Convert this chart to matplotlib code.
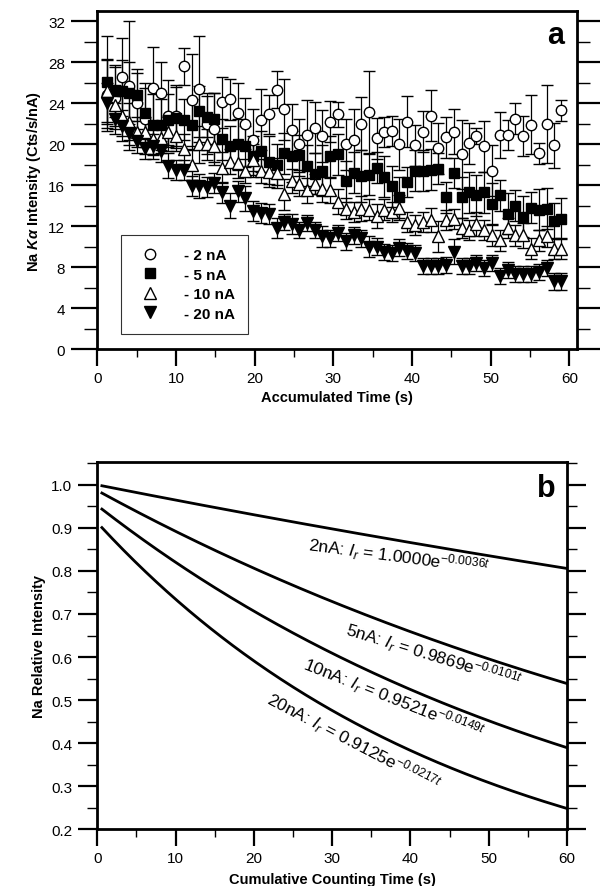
import numpy as np
import matplotlib
matplotlib.use("Agg")
import matplotlib.pyplot as plt
from matplotlib.ticker import MultipleLocator, FormatStrFormatter

plt.rcParams['font.family'] = ['Liberation Sans', 'DejaVu Sans']
plt.rcParams['mathtext.fontset'] = 'custom'
plt.rcParams['mathtext.rm'] = 'Liberation Sans'
plt.rcParams['mathtext.it'] = 'Liberation Sans:italic'
plt.rcParams['mathtext.bf'] = 'Liberation Sans:bold'
plt.rcParams['mathtext.bfit'] = 'Liberation Sans:italic:bold'

# ---- panel a data ----
time_s = [1.2, 2.2, 3.2, 4.1, 5.1, 6.1, 7.1, 8.1, 9.0, 10.0,
          11.0, 12.0, 13.0, 13.9, 14.9, 15.9, 16.9, 17.9, 18.8, 19.8,
          20.8, 21.8, 22.8, 23.7, 24.7, 25.7, 26.7, 27.7, 28.6, 29.6,
          30.6, 31.6, 32.6, 33.5, 34.5, 35.5, 36.5, 37.5, 38.4, 39.4,
          40.4, 41.4, 42.4, 43.3, 44.3, 45.3, 46.3, 47.3, 48.2, 49.2,
          50.2, 51.2, 52.2, 53.1, 54.1, 55.1, 56.1, 57.1, 58.0, 59.0]

na_2nA = [24.8, 24.5, 26.6, 25.7, 24.0, 22.5, 25.5, 25.0, 22.8, 22.8,
          27.6, 24.3, 25.4, 22.0, 21.5, 24.1, 24.4, 23.0, 22.0, 20.4,
          22.4, 22.9, 25.3, 23.4, 21.4, 20.0, 20.9, 21.6, 20.8, 22.2,
          22.9, 20.0, 20.4, 22.0, 23.1, 20.6, 21.2, 21.3, 20.0, 22.2,
          19.9, 21.2, 22.8, 19.6, 20.7, 21.2, 19.0, 20.1, 20.8, 19.8,
          17.4, 20.9, 20.9, 22.5, 20.8, 21.9, 19.1, 22.0, 19.9, 23.3]
err_2nA = [3.5, 3.0, 3.8, 6.3, 3.0, 3.5, 4.0, 3.0, 3.5, 3.0,
           1.8, 4.5, 5.2, 3.0, 3.5, 2.5, 2.0, 3.0, 2.5, 3.0,
           3.0, 1.9, 1.8, 3.0, 2.5, 2.5, 3.4, 2.5, 2.5, 2.0,
           1.2, 2.5, 3.0, 2.6, 4.0, 2.0, 1.5, 1.5, 2.5, 2.5,
           2.0, 2.0, 2.5, 2.5, 2.0, 2.2, 3.4, 2.0, 0.8, 2.5,
           2.5, 2.2, 1.5, 1.5, 2.0, 2.9, 1.0, 3.8, 2.2, 1.0]

na_5nA = [26.1, 25.2, 25.2, 25.0, 24.8, 23.0, 21.9, 21.9, 22.4, 22.6,
          22.4, 21.9, 23.2, 22.7, 22.5, 20.5, 19.8, 20.0, 19.8, 18.8,
          19.3, 18.3, 18.0, 19.1, 18.8, 18.9, 17.9, 17.1, 17.4, 18.8,
          19.0, 16.4, 17.2, 16.9, 17.0, 17.7, 16.8, 15.9, 14.8, 16.3,
          17.4, 17.4, 17.5, 17.6, 14.8, 17.2, 14.8, 15.3, 15.0, 15.3,
          14.2, 15.0, 13.2, 14.0, 12.9, 13.8, 13.6, 13.7, 12.5, 12.7]
err_5nA = [4.5, 2.5, 3.0, 3.0, 2.5, 2.5, 3.0, 2.5, 2.5, 3.0,
           2.0, 2.5, 2.5, 2.0, 2.5, 2.0, 2.0, 2.5, 2.0, 2.0,
           2.0, 2.5, 2.0, 2.0, 2.5, 2.0, 2.0, 2.0, 2.5, 2.0,
           2.0, 2.0, 2.0, 2.5, 2.0, 1.5, 2.0, 2.0, 2.0, 1.5,
           2.0, 2.0, 2.0, 1.5, 1.5, 1.5, 2.0, 2.0, 2.0, 2.0,
           2.0, 1.5, 2.0, 1.5, 2.0, 1.5, 2.0, 2.0, 1.8, 2.0]

na_10nA = [25.2, 23.8, 22.8, 22.2, 21.2, 21.2, 20.5, 20.6, 21.2, 20.8,
           19.5, 18.0, 20.0, 20.0, 19.8, 17.7, 18.3, 18.2, 17.4, 18.5,
           17.4, 17.3, 17.2, 15.1, 16.4, 16.1, 15.5, 16.1, 15.6, 15.5,
           14.4, 13.7, 13.4, 13.7, 13.6, 13.0, 13.6, 13.4, 13.8, 12.4,
           12.1, 12.4, 12.6, 11.0, 12.6, 12.7, 11.8, 11.6, 12.2, 11.6,
           11.1, 10.6, 11.8, 11.1, 11.1, 9.8, 10.6, 11.0, 9.8, 9.8]
err_10nA = [3.0, 2.0, 2.0, 1.8, 1.5, 1.5, 1.5, 1.5, 1.5, 1.5,
            1.5, 1.5, 1.8, 1.5, 1.5, 1.5, 1.2, 1.5, 1.2, 1.5,
            1.2, 1.2, 1.5, 1.5, 1.2, 1.2, 1.2, 1.0, 1.2, 1.2,
            1.2, 1.0, 1.0, 1.2, 1.0, 1.2, 1.0, 1.0, 1.2, 1.0,
            1.0, 1.0, 1.2, 1.5, 1.0, 1.0, 1.0, 1.0, 1.2, 1.0,
            1.0, 1.0, 1.0, 1.0, 1.2, 1.0, 1.0, 1.0, 1.0, 1.0]

na_20nA = [24.0, 22.5, 21.8, 21.1, 20.3, 19.6, 19.8, 19.3, 17.9, 17.5,
           17.5, 15.9, 15.9, 15.8, 16.2, 15.3, 14.0, 15.4, 14.7, 13.5,
           13.3, 13.2, 11.8, 12.4, 12.2, 11.6, 12.3, 11.6, 11.0, 10.8,
           11.3, 10.5, 11.1, 10.8, 10.0, 10.0, 9.5, 9.4, 9.9, 9.6,
           9.4, 8.1, 8.1, 8.1, 8.2, 9.5, 8.1, 8.1, 8.4, 7.9,
           8.4, 7.1, 7.7, 7.3, 7.3, 7.3, 7.5, 7.9, 6.6, 6.6]
err_20nA = [2.0, 1.5, 1.5, 1.2, 1.2, 1.0, 1.2, 1.0, 1.2, 1.0,
            1.0, 1.0, 1.2, 1.0, 1.0, 1.0, 1.2, 1.0, 1.2, 1.0,
            1.0, 1.0, 1.0, 0.8, 1.0, 0.8, 0.8, 0.8, 1.0, 0.8,
            0.8, 0.8, 0.8, 0.8, 1.0, 0.8, 0.8, 0.8, 0.8, 0.8,
            0.8, 0.8, 0.8, 0.8, 0.8, 1.2, 0.8, 0.8, 0.8, 0.8,
            0.8, 0.8, 0.8, 0.8, 0.8, 0.8, 0.8, 0.8, 0.8, 0.8]

# ---- panel b: fitted decay curves I_r = A * exp(k t) as given in the chart ----
currents = ["2nA", "5nA", "10nA", "20nA"]
fit_amp = [1.0000, 0.9869, 0.9521, 0.9125]
fit_rate = [-0.0036, -0.0101, -0.0149, -0.0217]
label_x = [38.6, 43.0, 37.8, 32.8]
label_y = [0.835, 0.605, 0.505, 0.405]
label_rot = [-7.5, -17, -21.5, -27.5]


def style_axes(ax, ylen):
    for side in ["left", "right", "top", "bottom"]:
        ax.spines[side].set_linewidth(2.0)
    ax.tick_params(which="major", direction="out", length=12, width=1.6,
                   labelsize=11, right=True, top=False)
    ax.tick_params(which="minor", direction="out", length=6, width=1.0,
                   right=True, top=False)
    ax.tick_params(axis="y", which="major", length=ylen, pad=4)
    ax.tick_params(axis="y", which="minor", length=ylen / 2)
    ax.tick_params(axis="y", which="both", labelright=False)


fig = plt.figure(figsize=(6, 8.87), dpi=100)

# ---------------- panel a ----------------
ax1 = fig.add_axes([0.162, 0.6054, 0.80, 0.381])
series = [
    (na_2nA, err_2nA, "o", "white", 7.5, "- 2 nA"),
    (na_5nA, err_5nA, "s", "black", 7, "- 5 nA"),
    (na_10nA, err_10nA, "^", "white", 8.5, "- 10 nA"),
    (na_20nA, err_20nA, "v", "black", 8.5, "- 20 nA"),
]
for vals, errs, mk, fc, ms, lab in series:
    ax1.errorbar(time_s, vals, yerr=errs, fmt=mk, mfc=fc, mec="black",
                 mew=1.0, ms=ms, ecolor="black", elinewidth=0.9,
                 capsize=4, capthick=0.9, label=lab)

ax1.set_xlim(0, 61)
ax1.set_ylim(0, 33)
ax1.xaxis.set_major_locator(MultipleLocator(10))
ax1.xaxis.set_minor_locator(MultipleLocator(5))
ax1.yaxis.set_major_locator(MultipleLocator(4))
ax1.yaxis.set_minor_locator(MultipleLocator(2))
style_axes(ax1, 19)
ax1.set_xlabel("Accumulated Time (s)", fontsize=10.5, fontweight="bold")
ax1.set_ylabel(r"Na $\mathbfit{K\alpha}$ Intensity (Cts/s/nA)",
               fontsize=10.5, fontweight="bold", labelpad=4)
ax1.text(0.955, 0.93, "a", transform=ax1.transAxes, fontsize=22,
         fontweight="bold", ha="center", va="center")

handles, labels = ax1.get_legend_handles_labels()
handles = [h[0] for h in handles]
leg = ax1.legend(handles, labels, loc="lower left",
                 bbox_to_anchor=(0.04, 0.03), frameon=True, fancybox=False,
                 edgecolor="black", prop={"weight": "bold", "size": 11},
                 handletextpad=1.2, borderpad=0.9, labelspacing=0.35,
                 borderaxespad=0.3)
leg.get_frame().set_linewidth(0.8)

# ---------------- panel b ----------------
ax2 = fig.add_axes([0.162, 0.064, 0.783, 0.414])
t = np.linspace(0.6, 60, 300)
for amp, rate in zip(fit_amp, fit_rate):
    ax2.plot(t, amp * np.exp(rate * t), color="black", lw=2.0)

for cur, amp, rate, lx, ly, rot in zip(currents, fit_amp, fit_rate,
                                       label_x, label_y, label_rot):
    txt = r"%s: $I_r$ = %.4fe$^{%.4f\mathit{t}}$" % (cur, amp, rate)
    ax2.text(lx, ly, txt, fontsize=12.5, rotation=rot, rotation_mode="anchor",
             ha="center", va="center")

ax2.set_xlim(0, 60)
ax2.set_ylim(0.2, 1.053)
ax2.xaxis.set_major_locator(MultipleLocator(10))
ax2.xaxis.set_minor_locator(MultipleLocator(5))
ax2.yaxis.set_major_locator(MultipleLocator(0.1))
ax2.yaxis.set_minor_locator(MultipleLocator(0.05))
ax2.yaxis.set_major_formatter(FormatStrFormatter("%.1f"))
style_axes(ax2, 14)
ax2.set_xlabel("Cumulative Counting Time (s)", fontsize=10.5,
               fontweight="bold", labelpad=5)
ax2.set_ylabel("Na Relative Intensity", fontsize=10.5, fontweight="bold",
               labelpad=4)
ax2.text(0.955, 0.93, "b", transform=ax2.transAxes, fontsize=22,
         fontweight="bold", ha="center", va="center")

fig.savefig("out.png", dpi=100)
